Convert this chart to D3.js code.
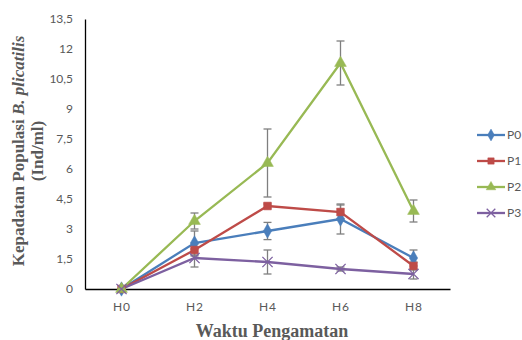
<!DOCTYPE html>
<html>
<head>
<meta charset="utf-8">
<script src="https://cdn.jsdelivr.net/npm/d3@7"></script>
<style>
  body { margin: 0; background: #fff; }
  text { fill: #595959; }
</style>
</head>
<body>
<script>
let width = 522, height = 340;

// data
let days = ["H0", "H2", "H4", "H6", "H8"];
let seriesNames = ["P0", "P1", "P2", "P3"];
let p0 = [0, 2.3, 2.9, 3.5, 1.55];
let p1 = [0, 1.95, 4.15, 3.85, 1.15];
let p2 = [0, 3.4, 6.3, 11.3, 3.9];
let p3 = [0, 1.55, 1.35, 1.0, 0.75];
let p0Err = [0, 0.6, 0.43, 0.75, 0.4];
let p1Err = [0, 0.3, 0.1, 0.35, 0.2];
let p2Err = [0, 0.4, 1.7, 1.1, 0.55];
let p3Err = [0, 0.45, 0.6, 0.1, 0.25];
let yTicks = [0, 1.5, 3, 4.5, 6, 7.5, 9, 10.5, 12, 13.5];

let colors = ["#4A7EBB", "#BE4B48", "#98B954", "#7D60A0"];
let symbols = [d3.symbolDiamond, d3.symbolSquare, d3.symbolTriangle, d3.symbolX];
let values = [p0, p1, p2, p3];
let errors = [p0Err, p1Err, p2Err, p3Err];

let svg = d3.select("body").append("svg")
    .attr("width", width)
    .attr("height", height);

let x = d3.scalePoint().domain(days).range([85, 450]).padding(0.5);
let y = d3.scaleLinear().domain([0, 13.5]).range([289, 19]);

// axes
let yAxis = svg.append("g")
    .attr("transform", "translate(85,0)")
    .call(d3.axisLeft(y).tickValues(yTicks).tickSize(0).tickPadding(12)
      .tickFormat(d => String(d).replace(".", ",")));
yAxis.select(".domain").attr("stroke", "#000").attr("stroke-width", 1.3);
yAxis.selectAll("text")
    .style("font-family", "Lato, 'Open Sans', sans-serif")
    .style("font-size", "12px")
    .style("fill", "#595959");

let xAxis = svg.append("g")
    .attr("transform", "translate(0,289)")
    .call(d3.axisBottom(x).tickSize(0).tickPadding(13));
xAxis.select(".domain").attr("stroke", "#000").attr("stroke-width", 1.3);
xAxis.selectAll("text")
    .style("font-family", "Lato, 'Open Sans', sans-serif")
    .style("font-size", "12px")
    .style("letter-spacing", "1px")
    .style("fill", "#595959");

// error bars
let errG = svg.append("g");
values.forEach((vals, s) => {
  vals.forEach((v, i) => {
    let e = errors[s][i];
    if (!e) return;
    let cx = x(days[i]);
    errG.append("line")
      .attr("x1", cx).attr("x2", cx)
      .attr("y1", y(v - e)).attr("y2", y(v + e))
      .attr("stroke", "#7f7f7f").attr("stroke-width", 1.3);
    [v - e, v + e].forEach(t => {
      errG.append("line")
        .attr("x1", cx - 4).attr("x2", cx + 4)
        .attr("y1", y(t)).attr("y2", y(t))
        .attr("stroke", "#7f7f7f").attr("stroke-width", 1.3);
    });
  });
});

// lines and markers
let line = d3.line().x((d, i) => x(days[i])).y(d => y(d));
values.forEach((vals, s) => {
  svg.append("path")
    .datum(vals)
    .attr("fill", "none")
    .attr("stroke", colors[s])
    .attr("stroke-width", 2.3)
    .attr("d", line);
});
values.forEach((vals, s) => {
  svg.append("g").selectAll("path")
    .data(vals)
    .enter().append("path")
    .attr("transform", (d, i) => `translate(${x(days[i])},${y(d)})`)
    .attr("d", d3.symbol().type(symbols[s]).size(s == 3 ? 70 : 60))
    .attr("fill", s == 3 ? "none" : colors[s])
    .attr("stroke", colors[s])
    .attr("stroke-width", s == 3 ? 1.3 : 0.5);
});

// legend
let legend = svg.append("g").selectAll("g")
    .data(seriesNames)
    .enter().append("g")
    .attr("transform", (d, i) => `translate(477,${135 + i * 26})`);
legend.append("line")
    .attr("x1", 0).attr("x2", 28)
    .attr("stroke", (d, i) => colors[i])
    .attr("stroke-width", 2.3);
legend.append("path")
    .attr("transform", "translate(14,0)")
    .attr("d", (d, i) => d3.symbol().type(symbols[i]).size(i == 3 ? 50 : 40)())
    .attr("fill", (d, i) => i == 3 ? "none" : colors[i])
    .attr("stroke", (d, i) => colors[i])
    .attr("stroke-width", (d, i) => i == 3 ? 1.3 : 0.5);
legend.append("text")
    .attr("x", 30)
    .attr("dy", "0.35em")
    .style("font-family", "Lato, 'Open Sans', sans-serif")
    .style("font-size", "12px")
    .text(d => d);

// axis titles
let yTitle = svg.append("text")
    .attr("transform", "translate(24,151) rotate(-90)")
    .attr("text-anchor", "middle")
    .style("font-family", "'Liberation Serif', serif")
    .style("font-weight", "bold")
    .style("font-size", "17px");
yTitle.append("tspan").attr("x", 0).attr("dy", 0).text("Kepadatan Populasi ");
yTitle.append("tspan").style("font-style", "italic").text("B. plicatilis");
yTitle.append("tspan").attr("x", 0).attr("dy", 19).text("(Ind/ml)");

svg.append("text")
    .attr("x", 272)
    .attr("y", 337)
    .attr("text-anchor", "middle")
    .style("font-family", "'Liberation Serif', serif")
    .style("font-weight", "bold")
    .style("font-size", "18px")
    .text("Waktu Pengamatan");
</script>
</body>
</html>
